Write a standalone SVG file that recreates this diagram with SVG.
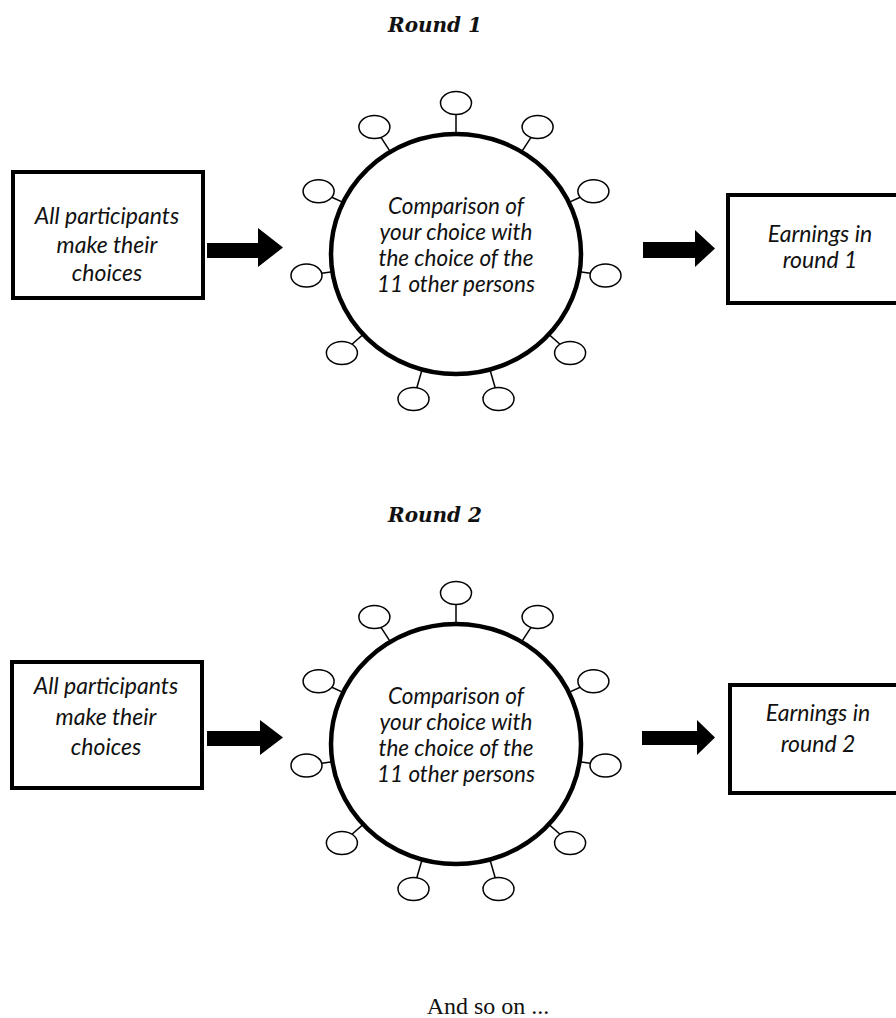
<svg xmlns="http://www.w3.org/2000/svg" xmlns:xlink="http://www.w3.org/1999/xlink" width="896" height="1018" viewBox="0 0 896 1018">
<style>
.title{font-family:"DejaVu Serif",serif;font-weight:bold;font-style:italic;font-size:20px;fill:#111;text-anchor:middle}
.lbl{font-family:Lato,"Open Sans",sans-serif;font-style:italic;font-size:23px;fill:#111;text-anchor:middle}
.clbl{font-family:Lato,"Open Sans",sans-serif;font-style:italic;font-size:22.5px;fill:#111;text-anchor:middle}
.foot{font-family:"Liberation Serif","Times New Roman",serif;font-size:24px;fill:#111;text-anchor:middle}
.box{fill:#fff;stroke:#000;stroke-width:4}
.main{fill:#fff;stroke:#000;stroke-width:4.5}
.sat{fill:#fff;stroke:#000;stroke-width:1.5}
.tick{stroke:#000;stroke-width:1.5;fill:none}
.arrow{fill:#000;stroke:none}
</style>
<defs>
<g id="sats">
<line class="tick" x1="456" y1="114.5" x2="456" y2="134"/>
<line class="tick" x1="531" y1="137.4" x2="521.6" y2="151.9"/>
<line class="tick" x1="580.2" y1="197.3" x2="568.9" y2="202.4"/>
<line class="tick" x1="590.2" y1="273.3" x2="579.6" y2="271.8"/>
<line class="tick" x1="560" y1="344.2" x2="548.8" y2="334.4"/>
<line class="tick" x1="495.2" y1="387.7" x2="489.9" y2="369.5"/>
<line class="tick" x1="416.8" y1="387.7" x2="422.1" y2="369.5"/>
<line class="tick" x1="352" y1="344.2" x2="363.2" y2="334.4"/>
<line class="tick" x1="321.8" y1="273.3" x2="332.4" y2="271.8"/>
<line class="tick" x1="331.8" y1="197.3" x2="343.1" y2="202.4"/>
<line class="tick" x1="381" y1="137.4" x2="390.4" y2="151.9"/>
<ellipse class="sat" cx="456" cy="103" rx="15.5" ry="11.5"/>
<ellipse class="sat" cx="537.6" cy="127" rx="15.5" ry="11.5"/>
<ellipse class="sat" cx="593.4" cy="191.3" rx="15.5" ry="11.5"/>
<ellipse class="sat" cx="605.5" cy="275.5" rx="15.5" ry="11.5"/>
<ellipse class="sat" cx="570.1" cy="352.9" rx="15.5" ry="11.5"/>
<ellipse class="sat" cx="498.5" cy="398.9" rx="15.5" ry="11.5"/>
<ellipse class="sat" cx="413.5" cy="398.9" rx="15.5" ry="11.5"/>
<ellipse class="sat" cx="341.9" cy="352.9" rx="15.5" ry="11.5"/>
<ellipse class="sat" cx="306.5" cy="275.5" rx="15.5" ry="11.5"/>
<ellipse class="sat" cx="318.6" cy="191.3" rx="15.5" ry="11.5"/>
<ellipse class="sat" cx="374.4" cy="127" rx="15.5" ry="11.5"/>
</g>
</defs>

<g id="round1-title"><text class="title" x="435" y="32">Round 1</text></g>

<g id="r1-participants">
<rect class="box" x="13" y="172" width="190" height="126"/>
<text class="lbl" x="107" y="224">All participants</text>
<text class="lbl" x="107" y="253">make their</text>
<text class="lbl" x="107" y="281">choices</text>
</g>

<g id="r1-comparison">
<use xlink:href="#sats" href="#sats"/>
<ellipse class="main" cx="456" cy="254" rx="125" ry="120"/>
<text class="clbl" x="456" y="214">Comparison of</text>
<text class="clbl" x="456" y="240">your choice with</text>
<text class="clbl" x="456" y="266">the choice of the</text>
<text class="clbl" x="456" y="292">11 other persons</text>
</g>

<g id="r1-earnings">
<rect class="box" x="728" y="195" width="177" height="108"/>
<text class="lbl" x="820" y="242">Earnings in</text>
<text class="lbl" x="820" y="268">round 1</text>
</g>

<g id="round2-title"><text class="title" x="435" y="522">Round 2</text></g>

<g id="r2-participants">
<rect class="box" x="12" y="662" width="190" height="126"/>
<text class="lbl" x="106" y="694">All participants</text>
<text class="lbl" x="106" y="725">make their</text>
<text class="lbl" x="106" y="755">choices</text>
</g>

<g id="r2-comparison">
<use xlink:href="#sats" href="#sats" transform="translate(0,490)"/>
<ellipse class="main" cx="456" cy="744" rx="125" ry="120"/>
<text class="clbl" x="456" y="704">Comparison of</text>
<text class="clbl" x="456" y="730">your choice with</text>
<text class="clbl" x="456" y="756">the choice of the</text>
<text class="clbl" x="456" y="782">11 other persons</text>
</g>

<g id="r2-earnings">
<rect class="box" x="730" y="685" width="177" height="108"/>
<text class="lbl" x="818" y="721">Earnings in</text>
<text class="lbl" x="818" y="752">round 2</text>
</g>

<g id="connectors">
<polygon class="arrow" points="207,243 258,243 258,228 283,247.5 258,267 258,258 207,258"/>
<polygon class="arrow" points="643,242 695,242 695,230 715,248.5 695,267 695,258 643,258"/>
<polygon class="arrow" points="207,731 260,731 260,720 283,737.5 260,755 260,746 207,746"/>
<polygon class="arrow" points="642,731 697,731 697,720 715,737.5 697,755 697,745 642,745"/>
</g>

<g id="footer"><text class="foot" x="488" y="1014">And so on ...</text></g>
</svg>
